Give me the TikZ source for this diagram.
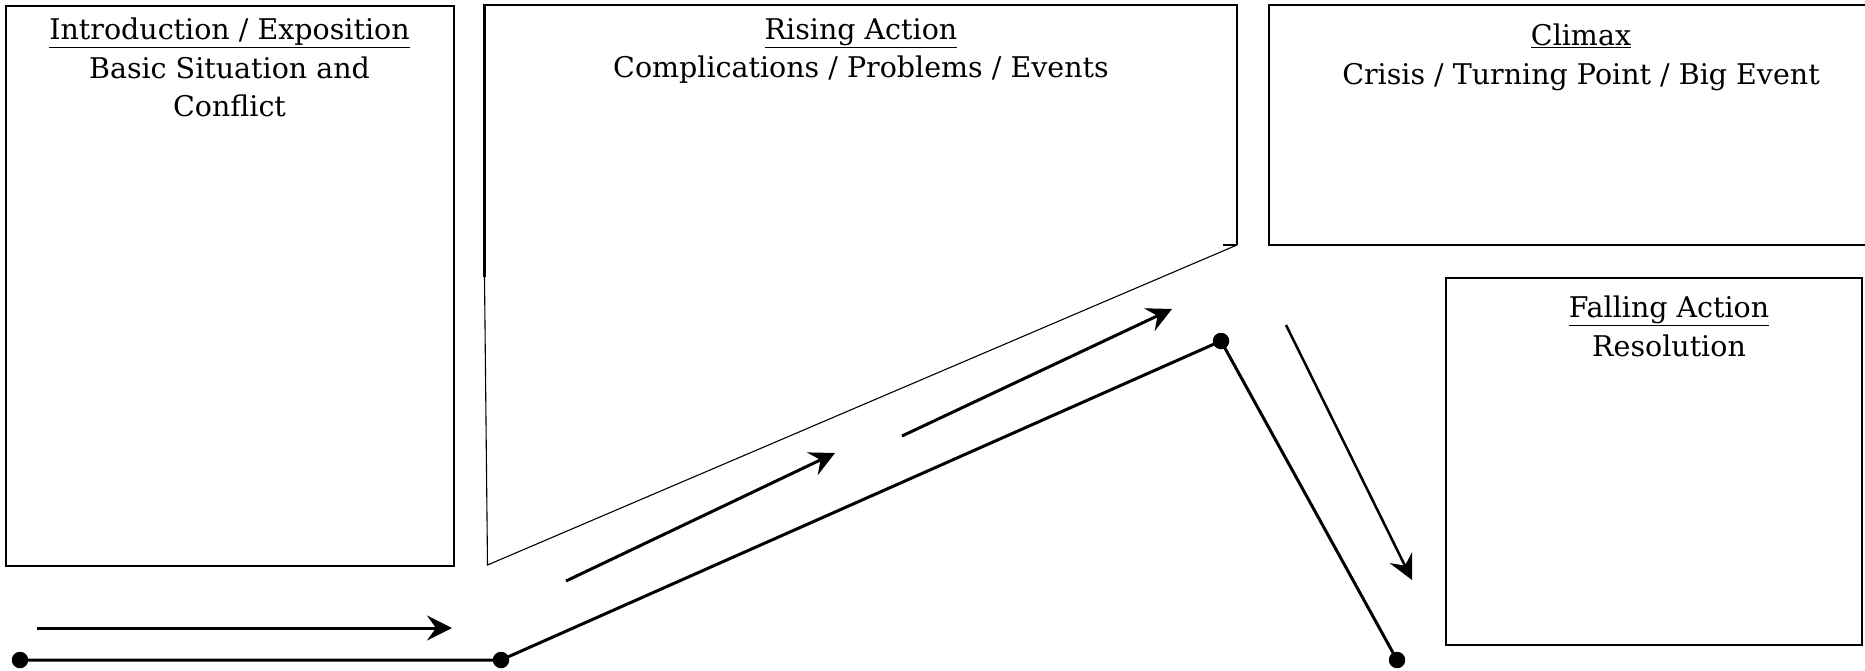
\documentclass[tikz,border=0pt]{standalone}
\usepackage{fontspec}
\setmainfont{DejaVu Serif}
\usetikzlibrary{arrows.meta}
\begin{document}
\begin{tikzpicture}[x=1pt,y=-1pt,
  boxline/.style={draw=black,line width=2.2pt},
  label/.style={align=center,font=\fontsize{28.5}{38.5}\selectfont,inner sep=0pt,anchor=north},
  path/.style={line width=3pt},
  arr/.style={line width=3pt,-{Stealth[length=25pt,width=25pt,inset=9pt]}},
  dot/.style={circle,fill=black,inner sep=0pt,minimum size=16.5pt}]
\useasboundingbox (0,0) rectangle (1865,671);
% boxes
\node[boxline,anchor=north west,minimum width=448pt,minimum height=560pt,inner sep=0pt] (intro) at (5,5) {};
\draw[line width=2.2pt] (484.5,277) -- (484.5,5) -- (1237,5) -- (1237,245);
\draw[line width=1.1pt] (484.5,277) -- (487.5,565) -- (1237,245);
\draw[line width=2.2pt] (1223,245) -- (1237,245);
\coordinate (risetl) at (484.5,5);
\draw[line width=2.2pt] (1880,5) -- (1269,5) -- (1269,245) -- (1880,245);
\coordinate (climax) at (1269,5);
\node[boxline,anchor=north west,minimum width=416pt,minimum height=367pt,inner sep=0pt] (fall) at (1445,277) {};
% texts
\node[label] (tintro) at (229.5,18) {\underline{Introduction / Exposition}\\Basic Situation and\\Conflict};
\node[label] (trise) at (861,18) {\underline{Rising Action}\\Complications / Problems / Events};
\node[label] (tclimax) at (1581,24) {\underline{Climax}\\Crisis / Turning Point / Big Event};
\node[label] (tfall) at (1669,296) {\underline{Falling Action}\\Resolution};
% plot line
\node[dot] (d1) at (20,660) {};
\node[dot] (d2) at (501,660) {};
\node[dot] (d3) at (1221,341) {};
\node[dot] (d4) at (1397,660) {};
\draw[path] (d1.center) -- (d2.center) -- (d3.center) -- (d4.center);
% arrows
\coordinate (a1s) at (37,628); \coordinate (a1e) at (452,628);
\coordinate (a2s) at (566,581); \coordinate (a2e) at (835,453);
\coordinate (a3s) at (902,436); \coordinate (a3e) at (1172,309);
\coordinate (a4s) at (1286,325); \coordinate (a4e) at (1412,580);
\draw[arr] (a1s) -- (a1e);
\draw[arr] (a2s) -- (a2e);
\draw[arr] (a3s) -- (a3e);
\draw[arr,line width=2.5pt] (a4s) -- (a4e);
\end{tikzpicture}
\end{document}
